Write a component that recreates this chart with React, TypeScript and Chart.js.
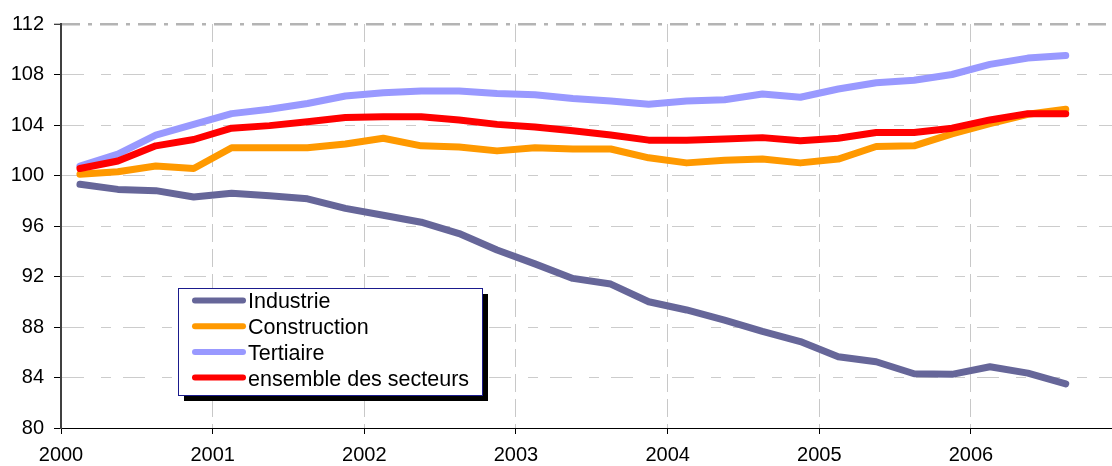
import React, { useEffect, useRef } from "react";
import { Chart, registerables } from "chart.js";

Chart.register(...registerables);

// Quarters (mid-quarter positions on a yearly axis)
const quarters = [
  "2000-T1", "2000-T2", "2000-T3", "2000-T4",
  "2001-T1", "2001-T2", "2001-T3", "2001-T4",
  "2002-T1", "2002-T2", "2002-T3", "2002-T4",
  "2003-T1", "2003-T2", "2003-T3", "2003-T4",
  "2004-T1", "2004-T2", "2004-T3", "2004-T4",
  "2005-T1", "2005-T2", "2005-T3", "2005-T4",
  "2006-T1", "2006-T2", "2006-T3",
];

const industrie = [
  99.3, 98.9, 98.8, 98.3, 98.6, 98.4, 98.15, 97.4, 96.85, 96.3, 95.4, 94.1, 93.0,
  91.85, 91.4, 90.0, 89.35, 88.55, 87.65, 86.85, 85.65, 85.25, 84.3, 84.25, 84.85, 84.35, 83.5,
];
const construction = [
  100.1, 100.3, 100.75, 100.55, 102.2, 102.2, 102.2, 102.5, 102.95, 102.35, 102.25, 101.95, 102.2,
  102.1, 102.1, 101.4, 101.0, 101.2, 101.3, 101.0, 101.3, 102.3, 102.35, 103.3, 104.1, 104.85, 105.25,
];
const tertiaire = [
  100.75, 101.7, 103.2, 104.05, 104.9, 105.25, 105.7, 106.3, 106.55, 106.7, 106.7, 106.5, 106.4,
  106.1, 105.9, 105.65, 105.9, 106.0, 106.45, 106.2, 106.85, 107.35, 107.55, 108.0, 108.8, 109.3, 109.5,
];
const ensemble = [
  100.55, 101.15, 102.35, 102.85, 103.75, 103.95, 104.25, 104.6, 104.65, 104.65, 104.4, 104.05, 103.85,
  103.55, 103.2, 102.8, 102.8, 102.9, 103.0, 102.75, 102.95, 103.4, 103.4, 103.75, 104.4, 104.9, 104.9,
];

const yearTicks = [2000, 2001, 2002, 2003, 2004, 2005, 2006];
const yTicks = [80, 84, 88, 92, 96, 100, 104, 108, 112];

const seriesNames = ["Industrie", "Construction", "Tertiaire", "ensemble des secteurs"];
const seriesColors = ["#666699", "#FF9900", "#9999FF", "#FF0000"];

const FONT = "Arial, 'Liberation Sans', sans-serif";

function quarterToX(q: string): number {
  const [y, t] = q.split("-T");
  return Number(y) + (Number(t) - 0.5) / 4;
}

const legendPlugin = {
  id: "boxLegend",
  afterDraw(chart: any) {
    const ctx = chart.ctx as CanvasRenderingContext2D;
    const left = 178, top = 288, w = 304, h = 107;
    ctx.save();
    ctx.fillStyle = "#000000";
    ctx.fillRect(left + 6, top + 6, w, h);
    ctx.fillStyle = "#ffffff";
    ctx.fillRect(left, top, w, h);
    ctx.strokeStyle = "#1a1a8c";
    ctx.lineWidth = 1;
    ctx.strokeRect(left + 0.5, top + 0.5, w, h);
    ctx.font = `21.5px ${FONT}`;
    ctx.textBaseline = "middle";
    ctx.textAlign = "left";
    chart.data.datasets.forEach((ds: any, i: number) => {
      const y = top + 12.5 + i * 25.7;
      ctx.strokeStyle = ds.borderColor;
      ctx.lineWidth = 6;
      ctx.lineCap = "round";
      ctx.beginPath();
      ctx.moveTo(195, y);
      ctx.lineTo(243, y);
      ctx.stroke();
      ctx.fillStyle = "#000000";
      ctx.fillText(ds.label, 248, y + 2);
    });
    ctx.restore();
  },
};

export default function App() {
  const ref = useRef<HTMLCanvasElement>(null);
  useEffect(() => {
    if (!ref.current) return;
    const xs = quarters.map(quarterToX);
    const series = [industrie, construction, tertiaire, ensemble];
    const chart = new Chart(ref.current, {
      type: "line",
      data: {
        datasets: series.map((vals, i) => ({
          label: seriesNames[i],
          data: vals.map((v, k) => ({ x: xs[k], y: v })),
          borderColor: seriesColors[i],
          backgroundColor: seriesColors[i],
          borderWidth: 7,
          borderCapStyle: "round",
          borderJoinStyle: "round",
          pointRadius: 0,
          tension: 0,
          fill: false,
          order: 3 - i,
        })),
      },
      options: {
        animation: false,
        responsive: false,
        events: [],
        layout: { padding: { top: 24, right: 0, bottom: 0, left: 0 } },
        plugins: { legend: { display: false }, tooltip: { enabled: false } },
        scales: {
          x: {
            type: "linear",
            min: 2000,
            max: 2006.93,
            afterBuildTicks: (scale: any) => {
              scale.ticks = yearTicks.map((v) => ({ value: v }));
            },
            afterFit: (scale: any) => {
              scale.height = 38;
            },
            ticks: {
              callback: (v: any) => String(v),
              color: "#000",
              font: { family: FONT, size: 20 },
              padding: 9,
              maxRotation: 0,
              autoSkip: false,
            },
            grid: {
              color: "#c8c8c8",
              lineWidth: 1,
              tickLength: 6,
              tickColor: "#000",
              tickWidth: 1,
              tickBorderDash: [],
            },
            border: { display: true, color: "#000", width: 1, dash: [18, 7] },
          },
          y: {
            type: "linear",
            min: 80,
            max: 112,
            afterBuildTicks: (scale: any) => {
              scale.ticks = yTicks.map((v) => ({ value: v }));
            },
            afterFit: (scale: any) => {
              scale.width = 61;
            },
            ticks: {
              callback: (v: any) => String(v),
              color: "#000",
              font: { family: FONT, size: 20 },
              padding: 10,
            },
            grid: {
              color: (c: any) => (c.tick && c.tick.value === 112 ? "#b4b4b4" : "#cccccc"),
              lineWidth: (c: any) => (c.tick && c.tick.value === 112 ? 2.5 : 1),
              tickLength: 7,
              tickColor: "#000",
              tickWidth: 1,
              tickBorderDash: [],
            },
            border: {
              display: true,
              color: "#404040",
              width: 2,
              dash: (c: any) => (c.tick && c.tick.value === 112 ? [18, 8, 4, 8] : [22, 17, 10, 12]),
            },
          },
        },
      },
      plugins: [legendPlugin],
    } as any);
    return () => chart.destroy();
  }, []);
  return (
    <div style={{ position: "absolute", left: 0, top: 0, width: 1112, height: 466, background: "#fff" }}>
      <canvas ref={ref} width={1112} height={466} />
    </div>
  );
}
